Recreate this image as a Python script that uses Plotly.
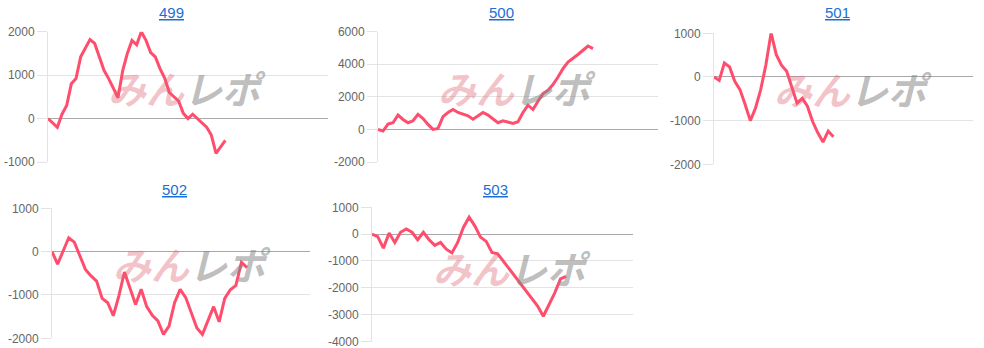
import plotly.graph_objects as go

W, H = 984, 348

titles = ["499", "500", "501", "502", "503"]

values_499 = [0, -100, -200, 100, 300, 800, 920, 1420, 1620, 1820, 1730, 1420, 1110, 920,
              700, 480, 1100, 1500, 1800, 1700, 2000, 1800, 1520, 1420, 1150, 930, 600, 500,
              400, 120, 0, 100, 0, -120, -200, -380, -800, -650, -500]
values_500 = [0, -100, 330, 410, 880, 610, 410, 530, 920, 670, 310, 0, 60, 780, 1040, 1220,
              1040, 920, 840, 630, 840, 1040, 880, 630, 410, 530, 470, 370, 470, 1040, 1490,
              1220, 1730, 2200, 2410, 2760, 3220, 3730, 4140, 4350, 4600, 4860, 5120, 4960]
values_501 = [0, -80, 320, 230, -100, -290, -630, -1000, -710, -290, 280, 1010, 510, 270,
              130, -210, -600, -490, -670, -1020, -1280, -1490, -1240, -1370]
values_502 = [0, -290, 15, 320, 220, -100, -410, -560, -680, -1080, -1180, -1480, -1020,
              -470, -830, -1220, -870, -1270, -1470, -1600, -1910, -1720, -1180, -870, -1060,
              -1420, -1760, -1910, -1580, -1270, -1620, -1080, -880, -780, -250, -370]
values_503 = [0, -90, -520, 40, -310, 70, 190, 70, -210, 70, -210, -420, -310, -560, -700,
              -310, 250, 630, 310, -110, -270, -680, -730, -1010, -1260, -1540, -1810, -2090,
              -2410, -2680, -3060, -2650, -2190, -1670, -1570]

series = [values_499, values_500, values_501, values_502, values_503]

y_ticks = [
    [-1000, 0, 1000, 2000],
    [-2000, 0, 2000, 4000, 6000],
    [-2000, -1000, 0, 1000],
    [-2000, -1000, 0, 1000],
    [-4000, -3000, -2000, -1000, 0, 1000],
]
x_max = [60, 56, 49.9, 46.3, 45.7]

# pixel layout of each plot area: (left, right, top, bottom)
boxes = [
    (48, 328, 31.7, 162),
    (378, 658, 31.7, 162),
    (714, 973, 33.3, 164.3),
    (52, 310, 208.3, 338.3),
    (372, 633, 207.3, 341.5),
]
title_pos = [(171, 12.5), (501, 12.5), (837, 12.5), (174, 189), (496, 189)]
mark_pos = [(187, 87), (517, 87), (853, 88), (192, 263), (512, 267)]

LINE = "#ff4d6d"
fig = go.Figure()
annotations = []

for i, (vals, ticks, xm, box) in enumerate(zip(series, y_ticks, x_max, boxes)):
    n = "" if i == 0 else str(i + 1)
    l, r, t, b = box
    fig.add_trace(go.Scatter(
        x=list(range(len(vals))), y=vals, mode="lines",
        line=dict(color=LINE, width=3), xaxis="x" + n, yaxis="y" + n,
        hoverinfo="skip", showlegend=False,
    ))
    fig.layout["xaxis" + n] = dict(
        domain=[l / W, r / W], range=[0, xm], showgrid=False, zeroline=False,
        showticklabels=False, showline=False, anchor="y" + n, fixedrange=True,
        automargin=False,
    )
    fig.layout["yaxis" + n] = dict(
        domain=[1 - b / H, 1 - t / H], range=[ticks[0], ticks[-1]],
        tickvals=ticks, ticktext=[str(v) for v in ticks],
        showgrid=True, gridcolor="#e3e3e3", gridwidth=1,
        zeroline=True, zerolinecolor="#a8a8a8", zerolinewidth=1,
        showline=True, linecolor="#e3e3e3", linewidth=1,
        ticks="outside", ticklen=10, tickcolor="#e3e3e3",
        tickfont=dict(family="Liberation Sans, Arial", size=12, color="#666666"),
        ticklabeloverflow="allow",
        anchor="x" + n, fixedrange=True, automargin=False,
    )
    tx, ty = title_pos[i]
    annotations.append(dict(
        text="<u>" + titles[i] + "</u>", x=tx / W, y=1 - ty / H, xref="paper", yref="paper",
        xanchor="center", yanchor="middle", showarrow=False,
        font=dict(family="Liberation Sans, Arial", size=15, color="#1a6fd6"),
    ))
    # watermark "みんレポ"
    mx, my = mark_pos[i]
    annotations.append(dict(
        text="<b><i><span style='color:rgba(222,100,112,0.38)'>みん</span>"
             "<span style='color:rgba(135,135,135,0.55)'>レポ</span></i></b>",
        x=mx / W, y=1 - my / H, xref="paper", yref="paper",
        xanchor="center", yanchor="middle", showarrow=False,
        font=dict(family="Noto Sans CJK JP", size=38),
    ))

fig.update_layout(
    width=W, height=H, margin=dict(l=0, r=0, t=0, b=0, pad=0, autoexpand=False),
    paper_bgcolor="white", plot_bgcolor="white",
    annotations=annotations, showlegend=False,
)

fig.write_html("out.html", config={"displayModeBar": False})
